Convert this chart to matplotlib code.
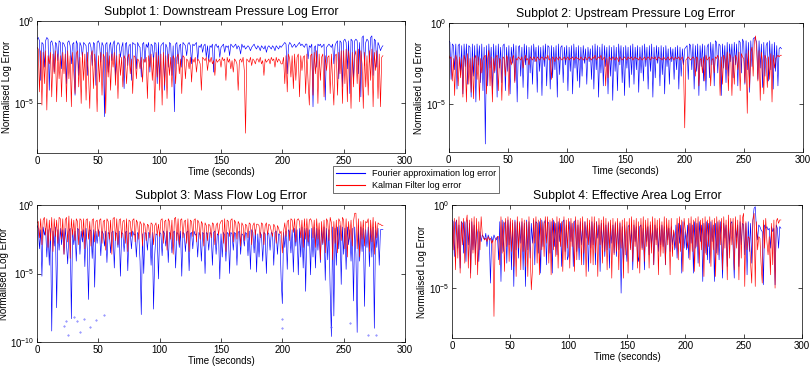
import numpy as np
import matplotlib
matplotlib.use('Agg')
import matplotlib.pyplot as plt

plt.rcParams['font.family'] = ['Liberation Sans', 'DejaVu Sans']

# one sample per second; values are log10(error) in tenths of a decade
t_step = 1.0

# Subplot 1: downstream pressure
ds_fourier = [-11, -10, -12, -36, -13, -14, -28, -12, -10, -11, -42, -13, -12, -15, -31, -13, -14, -24, -12, -13,
              -29, -13, -14, -16, -38, -13, -12, -15, -26, -14, -13, -45, -12, -14, -33, -13, -15, -22, -13, -14,
              -15, -33, -14, -13, -16, -27, -13, -14, -39, -13, -12, -14, -25, -13, -15, -58, -14, -13, -31, -15,
              -13, -24, -14, -12, -35, -15, -13, -14, -22, -16, -13, -41, -14, -13, -27, -15, -14, -36, -13, -14,
              -14, -29, -13, -15, -16, -34, -14, -13, -25, -14, -16, -13, -31, -14, -15, -24, -13, -14, -38, -13,
              -36, -15, -14, -13, -42, -14, -16, -28, -13, -14, -33, -15, -55, -14, -13, -26, -15, -14, -28, -13,
              -14, -15, -21, -14, -13, -15, -26, -14, -15, -14, -13, -24, -15, -16, -14, -19, -15, -14, -22, -15,
              -24, -15, -16, -14, -31, -15, -14, -16, -15, -22, -16, -15, -14, -19, -15, -16, -15, -21, -14, -15,
              -16, -15, -14, -17, -15, -16, -20, -14, -16, -15, -17, -16, -15, -16, -18, -16, -15, -14, -16, -17,
              -15, -16, -18, -15, -16, -17, -15, -19, -16, -15, -16, -17, -15, -16, -18, -15, -16, -17, -15, -16,
              -15, -14, -13, -14, -32, -15, -13, -14, -16, -15, -14, -16, -15, -14, -13, -15, -14, -15, -16, -14,
              -14, -23, -15, -16, -14, -52, -16, -15, -28, -14, -15, -14, -16, -15, -14, -48, -16, -15, -14, -15,
              -16, -14, -26, -15, -13, -12, -35, -12, -13, -40, -12, -11, -13, -29, -12, -44, -11, -12, -38, -12,
              -11, -12, -32, -13, -46, -10, -9, -27, -13, -11, -12, -25, -10, -9, -33, -11, -12, -28, -13, -15,
              -18, -16, -15]
ds_kalman = [-16, -17, -43, -18, -51, -19, -38, -18, -54, -21, -26, -19, -46, -20, -32, -18, -49, -20, -35, -21,
             -46, -19, -32, -20, -49, -18, -35, -21, -52, -19, -31, -44, -20, -18, -40, -22, -50, -19, -36, -20,
             -48, -19, -33, -53, -21, -18, -41, -20, -30, -55, -21, -37, -19, -45, -20, -22, -56, -19, -34, -21,
             -42, -20, -28, -19, -39, -21, -47, -20, -33, -22, -40, -21, -23, -38, -22, -20, -32, -23, -44, -21,
             -22, -35, -23, -24, -29, -22, -37, -23, -25, -22, -47, -21, -28, -20, -36, -22, -55, -19, -34, -21,
             -42, -20, -51, -19, -39, -21, -47, -20, -33, -22, -40, -21, -23, -38, -22, -20, -32, -23, -44, -21,
             -22, -35, -23, -24, -29, -22, -37, -23, -25, -22, -31, -23, -24, -26, -42, -22, -23, -24, -22, -30,
             -23, -25, -22, -26, -24, -33, -23, -25, -24, -23, -28, -22, -24, -23, -36, -22, -25, -23, -29, -24,
             -31, -23, -24, -26, -42, -24, -23, -25, -22, -30, -68, -23, -24, -25, -22, -27, -23, -24, -26, -23,
             -23, -25, -22, -26, -24, -33, -23, -25, -24, -23, -26, -22, -24, -23, -28, -22, -25, -23, -24, -26,
             -26, -22, -38, -21, -43, -20, -23, -34, -21, -41, -20, -36, -22, -20, -46, -21, -30, -22, -21, -44,
             -20, -37, -51, -21, -20, -45, -19, -32, -18, -50, -20, -36, -22, -20, -46, -21, -30, -22, -21, -44,
             -20, -37, -51, -21, -20, -45, -19, -32, -18, -50, -18, -38, -17, -49, -18, -26, -53, -19, -40, -21,
             -18, -38, -17, -49, -18, -26, -53, -19, -40, -21, -45, -18, -36, -17, -52, -19, -30, -18, -47, -20,
             -52, -22, -21]

# Subplot 2: upstream pressure
us_fourier = [-11, -12, -35, -13, -14, -29, -13, -41, -14, -13, -32, -14, -44, -13, -27, -13, -38, -14, -15, -46,
              -13, -33, -14, -49, -13, -26, -14, -37, -13, -42, -15, -75, -14, -39, -13, -28, -15, -44, -13, -31,
              -14, -46, -13, -28, -15, -37, -14, -13, -42, -15, -30, -14, -44, -15, -25, -13, -36, -14, -49, -15,
              -14, -33, -15, -40, -13, -26, -14, -47, -15, -31, -14, -38, -13, -24, -15, -43, -14, -30, -15, -45,
              -14, -27, -13, -39, -14, -15, -41, -14, -34, -15, -29, -14, -46, -13, -32, -15, -14, -37, -15, -26,
              -14, -42, -15, -30, -14, -44, -13, -28, -15, -36, -14, -40, -15, -33, -14, -25, -16, -38, -15, -24,
              -16, -35, -14, -41, -13, -29, -14, -46, -15, -31, -13, -39, -14, -27, -15, -44, -14, -33, -15, -48,
              -14, -30, -15, -42, -13, -26, -14, -37, -15, -45, -14, -28, -15, -40, -14, -32, -13, -38, -15, -29,
              -14, -43, -15, -31, -14, -36, -13, -27, -15, -41, -14, -30, -13, -46, -15, -34, -14, -25, -15, -39,
              -14, -32, -15, -44, -14, -27, -16, -38, -15, -24, -16, -35, -15, -29, -14, -41, -15, -33, -16, -26,
              -16, -15, -14, -35, -13, -14, -29, -13, -41, -14, -30, -13, -45, -14, -27, -13, -36, -14, -42, -15,
              -13, -34, -12, -26, -13, -39, -11, -12, -31, -13, -14, -45, -13, -28, -14, -37, -12, -33, -13, -24,
              -13, -34, -12, -26, -13, -39, -11, -12, -31, -10, -12, -38, -11, -29, -12, -43, -11, -27, -10, -9,
              -10, -12, -35, -11, -28, -13, -40, -12, -33, -14, -12, -36, -11, -29, -13, -41, -12, -30, -14, -39,
              -16, -15, -16]
us_kalman = [-20, -22, -21, -36, -22, -45, -20, -23, -39, -21, -34, -22, -46, -20, -23, -49, -19, -38, -22, -43,
             -21, -47, -22, -20, -35, -21, -48, -22, -31, -23, -21, -20, -44, -22, -17, -39, -21, -49, -22, -30,
             -21, -20, -42, -22, -23, -48, -21, -22, -33, -20, -22, -45, -21, -26, -22, -20, -37, -22, -23, -21,
             -22, -23, -21, -28, -22, -20, -23, -22, -26, -21, -22, -23, -21, -22, -24, -21, -22, -23, -22, -21,
             -22, -23, -21, -22, -20, -23, -22, -35, -21, -22, -24, -21, -22, -23, -21, -22, -23, -22, -21, -23,
             -22, -21, -23, -22, -22, -21, -23, -22, -21, -22, -22, -23, -21, -22, -23, -22, -21, -23, -22, -21,
             -22, -23, -21, -22, -20, -23, -22, -21, -22, -20, -23, -22, -21, -39, -22, -34, -21, -22, -23, -21,
             -22, -23, -21, -22, -24, -21, -22, -23, -22, -21, -22, -23, -21, -22, -22, -21, -23, -22, -21, -22,
             -22, -23, -21, -22, -23, -22, -21, -23, -22, -21, -22, -23, -21, -22, -22, -21, -23, -22, -21, -22,
             -22, -23, -21, -22, -23, -22, -21, -23, -22, -21, -22, -23, -21, -22, -22, -21, -23, -22, -21, -27,
             -65, -23, -22, -21, -22, -23, -22, -21, -22, -33, -21, -22, -39, -23, -22, -31, -21, -36, -20, -23,
             -22, -21, -39, -23, -22, -31, -21, -22, -20, -23, -45, -21, -38, -20, -22, -29, -18, -42, -19, -21,
             -45, -21, -38, -20, -22, -29, -18, -42, -19, -21, -22, -37, -19, -56, -17, -40, -18, -15, -33, -12,
             -8, -16, -36, -17, -48, -18, -25, -44, -20, -22, -40, -21, -35, -19, -49, -20, -28, -22, -21, -20,
             -21, -20, -20]

# Subplot 3: mass flow
mf_fourier = [-15, -17, -32, -18, -52, -16, -22, -17, -38, -18, -44, -17, -92, -19, -30, -16, -75, -18, -33, -17,
              -29, -18, -36, -17, -28, -43, -19, -17, -83, -18, -29, -19, -41, -17, -18, -36, -19, -27, -18, -45,
              -17, -32, -69, -18, -19, -39, -18, -60, -19, -28, -18, -20, -37, -19, -21, -30, -19, -42, -20, -21,
              -35, -20, -19, -46, -20, -21, -31, -19, -52, -20, -21, -34, -20, -19, -48, -21, -20, -32, -19, -22,
              -21, -38, -20, -22, -41, -80, -21, -50, -20, -21, -33, -20, -21, -44, -20, -76, -36, -21, -22, -54,
              -20, -21, -37, -19, -21, -30, -19, -42, -20, -21, -35, -20, -19, -46, -20, -21, -31, -19, -52, -20,
              -21, -34, -20, -19, -48, -21, -20, -32, -19, -22, -21, -38, -20, -22, -41, -20, -21, -50, -20, -21,
              -33, -20, -21, -44, -20, -19, -36, -21, -22, -54, -21, -38, -20, -22, -41, -20, -21, -50, -20, -21,
              -33, -20, -21, -44, -20, -19, -36, -21, -22, -30, -20, -21, -37, -19, -47, -18, -20, -35, -18, -49,
              -21, -38, -20, -22, -41, -20, -21, -50, -20, -21, -33, -20, -21, -44, -20, -19, -36, -21, -22, -54,
              -72, -20, -31, -19, -47, -18, -20, -35, -18, -49, -17, -30, -18, -51, -17, -38, -16, -46, -17, -63,
              -17, -30, -18, -51, -17, -38, -16, -46, -17, -33, -18, -42, -17, -29, -16, -55, -17, -40, -18, -63,
              -96, -16, -81, -17, -44, -16, -32, -15, -58, -16, -36, -17, -47, -16, -29, -18, -41, -17, -70, -16,
              -36, -93, -15, -41, -16, -34, -17, -74, -18, -31, -16, -45, -17, -38, -16, -90, -18, -31, -17, -44,
              -18, -18, -18]
mf_kalman = [-13, -12, -24, -10, -29, -11, -9, -22, -10, -31, -11, -26, -9, -34, -10, -23, -11, -28, -9, -10,
             -25, -10, -36, -11, -9, -27, -8, -39, -10, -22, -11, -26, -10, -12, -29, -10, -11, -24, -10, -32,
             -11, -10, -25, -12, -30, -11, -10, -27, -12, -11, -23, -11, -10, -28, -12, -11, -33, -10, -12, -25,
             -11, -36, -10, -9, -26, -10, -29, -11, -10, -24, -12, -11, -28, -10, -34, -11, -12, -23, -11, -10,
             -27, -11, -13, -25, -12, -14, -30, -13, -15, -26, -14, -15, -24, -13, -14, -29, -15, -13, -22, -14,
             -23, -11, -10, -28, -12, -11, -33, -10, -12, -25, -11, -36, -10, -9, -26, -10, -29, -11, -10, -24,
             -12, -11, -28, -10, -34, -11, -12, -23, -11, -10, -27, -11, -13, -25, -12, -14, -30, -13, -15, -26,
             -14, -15, -24, -13, -14, -29, -15, -13, -22, -14, -12, -11, -28, -10, -34, -11, -12, -23, -11, -10,
             -27, -11, -13, -25, -12, -14, -30, -13, -15, -26, -14, -15, -24, -13, -14, -29, -15, -13, -22, -14,
             -14, -15, -24, -13, -14, -29, -15, -13, -22, -14, -15, -19, -23, -14, -16, -28, -15, -17, -21, -19,
             -35, -19, -13, -23, -12, -11, -26, -10, -11, -20, -10, -27, -11, -10, -12, -24, -11, -31, -10, -25,
             -10, -27, -11, -10, -12, -24, -11, -31, -10, -25, -13, -40, -12, -28, -11, -35, -10, -12, -26, -9,
             -13, -40, -12, -28, -11, -35, -10, -12, -26, -9, -11, -32, -10, -38, -12, -25, -11, -30, -12, -6,
             -6, -32, -10, -38, -12, -25, -11, -30, -12, -13, -10, -34, -11, -27, -9, -36, -12, -24, -13, -14,
             -14, -15, -15]
# isolated Fourier samples left near the bottom of subplot 3
mf_dots_t = [22, 24, 25, 30, 33, 35, 38, 43, 48, 55, 200, 200, 240, 255, 270, 276]
mf_dots_v = [-88, -85, -95, -82, -85, -93, -83, -89, -84, -80, -83, -90, -89, -86, -95, -95]

# Subplot 4: effective area
ea_fourier = [-9, -10, -31, -11, -9, -26, -12, -38, -10, -11, -29, -10, -34, -9, -24, -11, -41, -10, -27, -12,
              -29, -13, -18, -34, -16, -22, -18, -19, -21, -17, -25, -18, -20, -47, -19, -22, -18, -20, -21, -19,
              -33, -10, -46, -9, -28, -11, -10, -35, -9, -24, -10, -39, -11, -49, -9, -27, -10, -32, -11, -23,
              -10, -39, -11, -49, -9, -27, -10, -32, -11, -23, -9, -36, -10, -11, -29, -10, -41, -9, -25, -11,
              -9, -36, -10, -11, -29, -10, -41, -9, -25, -11, -30, -10, -22, -11, -37, -10, -9, -28, -12, -33,
              -30, -10, -22, -11, -37, -10, -9, -28, -12, -33, -10, -24, -11, -36, -10, -20, -12, -40, -11, -26,
              -10, -24, -11, -36, -10, -20, -12, -40, -11, -26, -11, -31, -12, -27, -11, -38, -13, -23, -12, -29,
              -11, -31, -12, -27, -11, -53, -13, -38, -12, -23, -34, -13, -12, -26, -14, -39, -12, -22, -13, -30,
              -34, -13, -12, -26, -14, -39, -12, -22, -13, -30, -12, -25, -13, -36, -12, -21, -14, -28, -13, -24,
              -12, -25, -13, -36, -12, -21, -14, -28, -13, -24, -16, -27, -12, -32, -11, -23, -12, -41, -10, -26,
              -16, -27, -12, -32, -11, -23, -12, -41, -10, -26, -11, -35, -10, -22, -12, -46, -11, -29, -10, -33,
              -11, -35, -10, -22, -12, -46, -11, -29, -10, -33, -10, -25, -44, -11, -20, -12, -37, -10, -24, -11,
              -10, -25, -44, -11, -20, -12, -37, -10, -24, -11, -12, -30, -11, -42, -10, -28, -11, -35, -9, -2,
              -1, -14, -21, -12, -13, -15, -16, -48, -12, -14, -13, -15, -14, -26, -13, -16, -14, -48, -12, -14,
              -26, -13, -14]
ea_kalman = [-10, -27, -8, -39, -9, -32, -7, -41, -10, -24, -8, -35, -11, -6, -38, -9, -44, -8, -29, -7,
             -36, -8, -42, -10, -27, -7, -18, -20, -21, -20, -22, -19, -21, -20, -23, -21, -67, -22, -20, -19,
             -19, -36, -7, -29, -10, -40, -8, -25, -7, -34, -8, -28, -9, -37, -10, -43, -7, -26, -10, -39,
             -8, -28, -9, -37, -10, -43, -7, -26, -51, -39, -8, -23, -7, -35, -9, -42, -8, -27, -10, -31,
             -7, -23, -7, -35, -9, -42, -8, -27, -10, -31, -7, -38, -8, -25, -10, -40, -7, -33, -9, -26,
             -8, -38, -8, -25, -10, -40, -7, -33, -9, -26, -8, -36, -7, -29, -10, -43, -8, -24, -9, -35,
             -7, -36, -7, -29, -10, -43, -8, -24, -9, -35, -7, -28, -8, -39, -10, -26, -9, -44, -8, -30,
             -10, -28, -8, -39, -10, -26, -9, -44, -8, -30, -10, -41, -8, -27, -7, -34, -9, -25, -8, -38,
             -10, -41, -8, -27, -7, -34, -9, -25, -8, -38, -10, -29, -7, -36, -8, -24, -9, -42, -8, -31,
             -10, -29, -7, -36, -8, -24, -9, -42, -8, -31, -15, -19, -26, -8, -33, -7, -28, -9, -40, -8,
             -15, -19, -26, -8, -33, -7, -28, -9, -40, -8, -25, -7, -37, -9, -27, -8, -43, -7, -30, -9,
             -25, -7, -37, -9, -27, -8, -43, -7, -30, -9, -24, -8, -39, -7, -26, -9, -45, -6, -32, -8,
             -24, -8, -39, -7, -26, -9, -45, -6, -32, -8, -5, -49, -10, -27, -19, -20, -35, -47, -9, -5,
             -49, -10, -27, -19, -20, -35, -47, -9, -26, -8, -22, -30, -19, -42, -11, -36, -9, -50, -10, -8,
             -11, -9, -9]

titles = ['Subplot 1: Downstream Pressure Log Error',
          'Subplot 2: Upstream Pressure Log Error',
          'Subplot 3: Mass Flow Log Error',
          'Subplot 4: Effective Area Log Error']
legend_labels = ['Fourier approximation log error', 'Kalman Filter log error']

series = [(ds_fourier, ds_kalman), (us_fourier, us_kalman),
          (mf_fourier, mf_kalman), (ea_fourier, ea_kalman)]
ylims = [(1e-8, 1), (1e-8, 1), (1e-10, 1), (1e-8, 1)]
yticks = [[1e-5, 1e0], [1e-5, 1e0], [1e-10, 1e-5, 1e0], [1e-5, 1e0]]
positions = [[0.0457, 0.5854, 0.4543, 0.3577],
             [0.554, 0.588, 0.437, 0.3497],
             [0.0457, 0.0732, 0.4543, 0.3712],
             [0.558, 0.084, 0.432, 0.3604]]

fig = plt.figure(figsize=(8.1, 3.69), dpi=100)
handles = []
for i in range(4):
    ax = fig.add_axes(positions[i])
    fourier, kalman = series[i]
    tf = np.arange(len(fourier)) * t_step
    tk = np.arange(len(kalman)) * t_step
    hb, = ax.semilogy(tf, 10.0 ** (np.array(fourier) / 10.0), color='#0000ff', lw=0.45)
    hr, = ax.semilogy(tk, 10.0 ** (np.array(kalman) / 10.0), color='#ff0000', lw=0.45)
    if i == 2:
        ax.semilogy(mf_dots_t, 10.0 ** (np.array(mf_dots_v) / 10.0), ls='none',
                    marker='.', ms=0.8, color='#6060ff')
    if i == 0:
        handles = [hb, hr]
    ax.set_xlim(0, 300)
    ax.set_ylim(*ylims[i])
    ax.set_xticks([0, 50, 100, 150, 200, 250, 300])
    ax.set_yticks(yticks[i])
    ax.minorticks_off()
    ax.tick_params(direction='in', top=True, right=True, length=3,
                   width=0.5, labelsize=7, pad=2)
    for s in ax.spines.values():
        s.set_linewidth(0.5)
    ax.set_title(titles[i], fontsize=8.8, pad=4)
    ax.set_xlabel('Time (seconds)', fontsize=7, labelpad=1)
    ax.set_ylabel('Normalised Log Error', fontsize=7, labelpad=1)

leg = fig.legend(handles, legend_labels, loc='upper left',
                 bbox_to_anchor=(0.411, 0.549), fontsize=6.5,
                 frameon=True, fancybox=False, edgecolor='black',
                 borderpad=0.3, handlelength=3.2, labelspacing=0.3,
                 borderaxespad=0)
leg.get_frame().set_linewidth(0.5)
for h in leg.get_lines():
    h.set_linewidth(0.8)

fig.savefig('out.png', dpi=100)
